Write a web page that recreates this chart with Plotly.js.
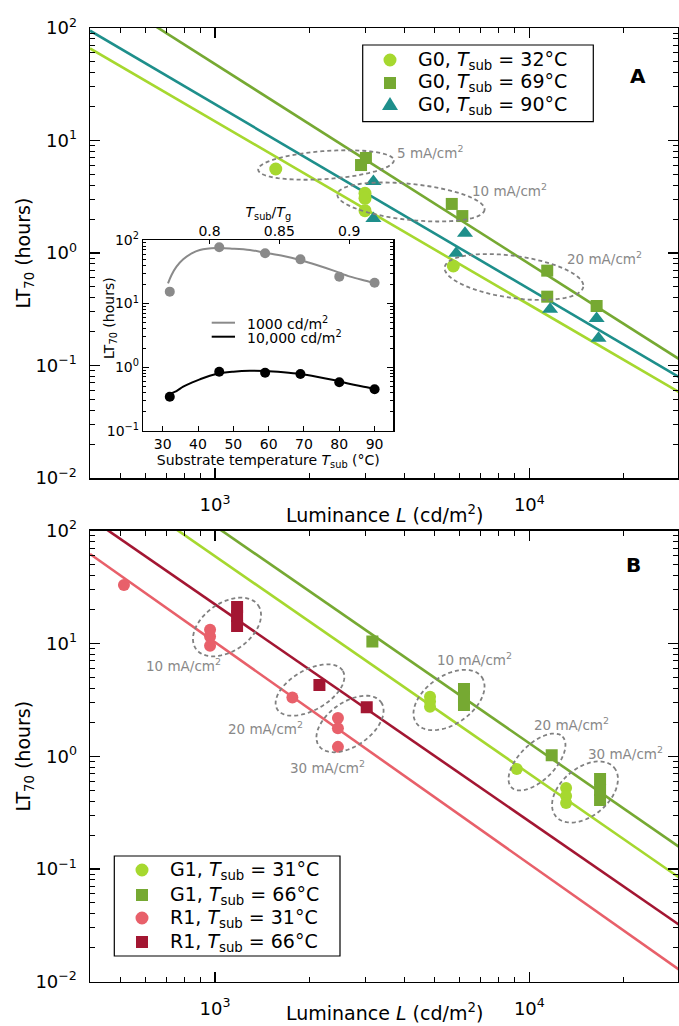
<!DOCTYPE html>
<html><head><meta charset="utf-8">
<script src="https://cdn.plot.ly/plotly-3.0.1.min.js"></script>
<style>html,body{margin:0;padding:0;background:#fff}</style>
</head><body><div id="chart" style="width:679px;height:1026px"></div>
<script>
// ---------------- Panel A data (G0) ----------------
const G0_32_L  = [1560, 3000, 3000, 3000, 5730];
const G0_32_LT = [5.58, 3.39, 3.06, 2.38, 0.766];
const G0_69_L  = [2914, 3020, 5665, 6120, 11400, 11400, 16370];
const G0_69_LT = [6.05, 6.99, 2.73, 2.13, 0.697, 0.409, 0.338];
const G0_90_L  = [3190, 3190, 6240, 5850, 11640, 16370, 16600];
const G0_90_LT = [4.31, 2.03, 1.50, 0.993, 0.316, 0.262, 0.175];
const FIT_L = [400, 30000];
const FIT_A_32 = [65.9, 0.0577];
const FIT_A_69 = [243, 0.1138];
const FIT_A_90 = [94.6, 0.0785];

// ---------------- Panel B data (G1, R1) ----------------
const G1_31_L  = [4830, 4830, 4830, 9120, 13090, 13090, 13090];
const G1_31_LT = [3.37, 3.05, 2.75, 0.77, 0.522, 0.443, 0.385];
const G1_66_L  = [3166, 6195, 6195, 6195, 11780, 16790, 16790, 16790];
const G1_66_LT = [10.4, 3.94, 3.35, 2.85, 1.02, 0.628, 0.502, 0.409];
const R1_31_L  = [513, 964, 964, 964, 1762, 2460, 2460, 2460];
const R1_31_LT = [33.0, 13.2, 11.5, 9.55, 3.32, 2.18, 1.77, 1.21];
const R1_66_L  = [1175, 1175, 1175, 2148, 3038];
const R1_66_LT = [21.0, 17.5, 14.3, 4.28, 2.72];
const FIT_B_G31 = [348, 0.0837];
const FIT_B_G66 = [643, 0.1567];
const FIT_B_R31 = [62.1, 0.01274];
const FIT_B_R66 = [129.6, 0.0319];

// ---------------- Inset data ----------------
const INSET_T = [32, 46, 59, 69, 80, 90];
const INSET_LT_1000  = [15.4, 76.8, 61.7, 49.6, 26.5, 21.3];
const INSET_LT_10000 = [0.343, 0.848, 0.818, 0.78, 0.577, 0.448];
const CURVE_T     = [31.5, 32.5, 33.9, 35.8, 38.2, 40.5, 45.2, 50, 54.7, 59, 64.2, 68.9, 73.6, 78.4, 83.1, 87.8, 90];
const CURVE_1000  = [20.8, 28.1, 38.0, 49.6, 61.7, 69.7, 74.8, 73.1, 69.7, 63.1, 56.0, 48.4, 40.5, 33.0, 26.5, 22.6, 20.8];
const CURVE_10000 = [0.365, 0.39, 0.42, 0.493, 0.57, 0.643, 0.78, 0.849, 0.88, 0.869, 0.829, 0.78, 0.708, 0.628, 0.543, 0.481, 0.448];
const SHADE_T = [59, 82.6];
const TG_K = 395.5;

// tick labels
const X_TICKS = [1000, 10000];
const X_TICKTEXT = ['10<sup>3</sup>', '10<sup>4</sup>'];
const Y_TICKS = [0.01, 0.1, 1, 10, 100];
const Y_TICKTEXT = ['10<sup>\u22122</sup>', '10<sup>\u22121</sup>', '10<sup>0</sup>', '10<sup>1</sup>', '10<sup>2</sup>'];
const IY_TICKS = [0.1, 1, 10, 100];
const IY_TICKTEXT = ['10<sup>\u22121</sup>', '10<sup>0</sup>', '10<sup>1</sup>', '10<sup>2</sup>'];
const IX_TICKS = [30, 40, 50, 60, 70, 80, 90];
const ITOP_TICKS = [0.8, 0.85, 0.9];
const ITOP_TICKTEXT = ['0.8', '0.85', '0.9'];

// colours
const LIME = '#a6d82f', GREEN = '#76a932', TEAL = '#1e8f8b', CORAL = '#e8606a', DARKRED = '#a31632';
const DGRAY = '#888888';

// ---------------- helpers ----------------
const W = 679, H = 1026;
const px = x => x / W;
const py = y => 1 - y / H;
const minorLog = (lo, hi) => { const v = []; for (let e = lo; e <= hi; e++) for (let m = 2; m <= 9; m++) v.push(m * Math.pow(10, e)); return v; };

function ellipsePath(cx, cy, a, b, angDeg) {
  const n = 90, th = angDeg * Math.PI / 180;
  let d = '';
  for (let i = 0; i <= n; i++) {
    const t = 2 * Math.PI * i / n;
    const x = cx + a * Math.cos(t) * Math.cos(th) - b * Math.sin(t) * Math.sin(th);
    const y = cy + a * Math.cos(t) * Math.sin(th) + b * Math.sin(t) * Math.cos(th);
    d += (i ? 'L' : 'M') + px(x).toFixed(5) + ',' + py(y).toFixed(5);
  }
  return d + 'Z';
}

const lineT = (x, y, color, xa, ya) => ({x, y, mode: 'lines', line: {color, width: 2.6}, xaxis: xa, yaxis: ya, showlegend: false, hoverinfo: 'skip'});
const mkT = (x, y, color, symbol, size, xa, ya) => ({x, y, mode: 'markers', marker: {color, symbol, size, line: {width: 0}}, xaxis: xa, yaxis: ya, showlegend: false});

const traces = [
  lineT(FIT_L, FIT_A_69, GREEN, 'x', 'y'),
  lineT(FIT_L, FIT_A_90, TEAL, 'x', 'y'),
  lineT(FIT_L, FIT_A_32, LIME, 'x', 'y'),
  mkT(G0_32_L, G0_32_LT, LIME, 'circle', 13, 'x', 'y'),
  mkT(G0_69_L, G0_69_LT, GREEN, 'square', 12, 'x', 'y'),
  mkT(G0_90_L, G0_90_LT, TEAL, 'triangle-up', 14, 'x', 'y'),

  lineT(FIT_L, FIT_B_G66, GREEN, 'x2', 'y2'),
  lineT(FIT_L, FIT_B_G31, LIME, 'x2', 'y2'),
  lineT(FIT_L, FIT_B_R66, DARKRED, 'x2', 'y2'),
  lineT(FIT_L, FIT_B_R31, CORAL, 'x2', 'y2'),
  mkT(G1_31_L, G1_31_LT, LIME, 'circle', 12, 'x2', 'y2'),
  mkT(G1_66_L, G1_66_LT, GREEN, 'square', 12, 'x2', 'y2'),
  mkT(R1_31_L, R1_31_LT, CORAL, 'circle', 12, 'x2', 'y2'),
  mkT(R1_66_L, R1_66_LT, DARKRED, 'square', 12, 'x2', 'y2'),

  {x: CURVE_T, y: CURVE_1000, mode: 'lines', line: {color: '#8a8a8a', width: 2, shape: 'spline'}, xaxis: 'x3', yaxis: 'y3', showlegend: false},
  {x: CURVE_T, y: CURVE_10000, mode: 'lines', line: {color: '#000', width: 2, shape: 'spline'}, xaxis: 'x3', yaxis: 'y3', showlegend: false},
  mkT(INSET_T, INSET_LT_1000, '#8a8a8a', 'circle', 10, 'x3', 'y3'),
  mkT(INSET_T, INSET_LT_10000, '#000', 'circle', 10, 'x3', 'y3'),
  {x: [], y: [], xaxis: 'x4', yaxis: 'y3', showlegend: false}
];

const mainAx = {
  showline: true, linecolor: '#000', linewidth: 1.5, mirror: 'ticks', ticks: 'inside', ticklen: 10, tickwidth: 1.2,
  tickcolor: '#000', showgrid: false, zeroline: false, tickfont: {size: 18, color: '#000'}, type: 'log', tickmode: 'array'
};
const xMinor = {ticks: 'inside', ticklen: 5, tickwidth: 1, tickcolor: '#000', tickmode: 'array', tickvals: minorLog(2, 4), showgrid: false};
const yMinor = {ticks: 'inside', ticklen: 5, tickwidth: 1, tickcolor: '#000', tickmode: 'array', tickvals: minorLog(-2, 1), showgrid: false};
const XR = [Math.log10(400), 4.473];
const yTitle = {text: 'LT<sub>70</sub> (hours)', font: {size: 19}, standoff: 0};

const insetAx = {showline: true, linecolor: '#000', linewidth: 1.5, ticks: 'inside', tickcolor: '#000', tickwidth: 1,
  showgrid: false, zeroline: false, tickfont: {size: 14, color: '#000'}, tickmode: 'array'};

const layout = {
  width: W, height: H, margin: {l: 0, r: 0, t: 0, b: 0},
  paper_bgcolor: '#fff', plot_bgcolor: '#fff',
  font: {family: 'DejaVu Sans, Verdana, sans-serif', color: '#000'},
  showlegend: false,
  xaxis: Object.assign({}, mainAx, {domain: [px(90), px(678)], anchor: 'y', range: XR, tickvals: X_TICKS, ticktext: X_TICKTEXT, minor: xMinor, ticklabelstandoff: 10}),
  yaxis: Object.assign({}, mainAx, {domain: [py(478), py(28)], anchor: 'x', range: [-2, 2], tickvals: Y_TICKS, ticktext: Y_TICKTEXT, minor: yMinor, title: yTitle, ticklabelstandoff: 8}),
  xaxis2: Object.assign({}, mainAx, {domain: [px(90), px(678)], anchor: 'y2', range: XR, tickvals: X_TICKS, ticktext: X_TICKTEXT, minor: xMinor, ticklabelstandoff: 10}),
  yaxis2: Object.assign({}, mainAx, {domain: [py(981.7), py(530.7)], anchor: 'x2', range: [-2, 2], tickvals: Y_TICKS, ticktext: Y_TICKTEXT, minor: yMinor, title: yTitle, ticklabelstandoff: 8}),
  xaxis3: Object.assign({}, insetAx, {domain: [px(143.3), px(393.3)], anchor: 'y3', range: [24.5, 95.3], tickvals: IX_TICKS, ticklen: 5, mirror: true,
    title: {text: 'Substrate temperature <i>T</i><sub>sub</sub> (°C)', font: {size: 14}, standoff: 2}}),
  xaxis4: Object.assign({}, insetAx, {overlaying: 'x3', anchor: 'y3', side: 'top', range: [(24.5 + 273.15) / TG_K, (95.3 + 273.15) / TG_K],
    tickvals: ITOP_TICKS, ticktext: ITOP_TICKTEXT, ticklen: 4, showline: false,
    title: {text: '<i>T</i><sub>sub</sub>/<i>T</i><sub>g</sub>', font: {size: 14}, standoff: 2}}),
  yaxis3: Object.assign({}, insetAx, {domain: [py(430.7), py(240)], anchor: 'x3', type: 'log', range: [-1, 2], tickvals: IY_TICKS, ticktext: IY_TICKTEXT,
    ticklen: 6, mirror: 'ticks', minor: {ticks: 'inside', ticklen: 3, tickwidth: 1, tickcolor: '#000', tickmode: 'array', tickvals: minorLog(-1, 1)}}),
  shapes: [],
  annotations: []
};

// x-axis titles of both panels and inset y title (placed close to the axes as in the figure)
layout.annotations.push({text: 'Luminance <i>L</i> (cd/m<sup>2</sup>)', x: px(384), y: py(514), xref: 'paper', yref: 'paper',
  xanchor: 'center', yanchor: 'middle', showarrow: false, font: {size: 19}});
layout.annotations.push({text: 'Luminance <i>L</i> (cd/m<sup>2</sup>)', x: px(384), y: py(1012), xref: 'paper', yref: 'paper',
  xanchor: 'center', yanchor: 'middle', showarrow: false, font: {size: 19}});
layout.annotations.push({text: 'LT<sub>70</sub> (hours)', x: px(110), y: py(318), xref: 'paper', yref: 'paper', textangle: -90,
  xanchor: 'center', yanchor: 'middle', showarrow: false, font: {size: 14}});

// inset shaded band (T_sub/T_g ~ 0.84-0.90)
layout.shapes.push({type: 'rect', xref: 'x3', yref: 'y3 domain', x0: SHADE_T[0], x1: SHADE_T[1], y0: 0, y1: 1,
  fillcolor: '#c8e3c6', line: {width: 0}, layer: 'below'});

// dashed grouping ellipses (pixel geometry)
const ELLIPSES = [
  [326, 165, 68, 14, -4], [411, 202, 74, 18, 6], [514, 277, 70, 21, 8],
  [227, 627, 38, 24, -35], [310, 690, 38, 20, -30], [350, 724, 38, 22, -35],
  [449, 700, 40, 24, -35], [537, 762, 36, 18, -45], [585, 792, 38, 24, -40]
];
ELLIPSES.forEach(e => layout.shapes.push({type: 'path', xref: 'paper', yref: 'paper', path: ellipsePath(...e),
  line: {color: '#808080', width: 1.8, dash: '4px,3px'}, layer: 'above'}));

const EL_LABELS = [
  ['5 mA/cm<sup>2</sup>', 395, 152, 'left'], ['10 mA/cm<sup>2</sup>', 470, 190, 'left'], ['20 mA/cm<sup>2</sup>', 565, 258, 'left'],
  ['10 mA/cm<sup>2</sup>', 183, 665, 'center'], ['20 mA/cm<sup>2</sup>', 265, 728, 'center'], ['30 mA/cm<sup>2</sup>', 327, 767, 'center'],
  ['10 mA/cm<sup>2</sup>', 475, 659, 'center'], ['20 mA/cm<sup>2</sup>', 571, 724, 'center'], ['30 mA/cm<sup>2</sup>', 625, 753, 'center']
];
EL_LABELS.forEach(l => layout.annotations.push({text: l[0], x: px(l[1]), y: py(l[2]), xref: 'paper', yref: 'paper',
  xanchor: l[3], yanchor: 'middle', showarrow: false, font: {size: 13.5, color: DGRAY}}));

// panel letters
layout.annotations.push({text: '<b>A</b>', x: px(648), y: py(62), xref: 'paper', yref: 'paper', showarrow: false, font: {size: 20}});
layout.annotations.push({text: '<b>B</b>', x: px(643), y: py(565), xref: 'paper', yref: 'paper', showarrow: false, font: {size: 20}});

// legends (drawn as boxes with symbols and text)
function addLegend(box, mx, tx, rows) {
  layout.shapes.push({type: 'rect', xref: 'paper', yref: 'paper', x0: px(box[0]), y0: py(box[3]), x1: px(box[2]), y1: py(box[1]),
    line: {color: '#000', width: 1.2}, fillcolor: '#fff', layer: 'above'});
  rows.forEach(r => {
    const [ry, sym, color, label] = r;
    const s = 6.5;
    if (sym === 'circle') {
      layout.shapes.push({type: 'circle', xref: 'paper', yref: 'paper', x0: px(mx - s), x1: px(mx + s), y0: py(ry + s), y1: py(ry - s), fillcolor: color, line: {width: 0}, layer: 'above'});
    } else if (sym === 'square') {
      layout.shapes.push({type: 'rect', xref: 'paper', yref: 'paper', x0: px(mx - 6), x1: px(mx + 6), y0: py(ry + 6), y1: py(ry - 6), fillcolor: color, line: {width: 0}, layer: 'above'});
    } else {
      layout.shapes.push({type: 'path', xref: 'paper', yref: 'paper',
        path: 'M' + px(mx - 8) + ',' + py(ry + 5) + 'L' + px(mx + 8) + ',' + py(ry + 5) + 'L' + px(mx) + ',' + py(ry - 8) + 'Z',
        fillcolor: color, line: {width: 0}, layer: 'above'});
    }
    layout.annotations.push({text: label, x: px(tx), y: py(ry), xref: 'paper', yref: 'paper', xanchor: 'left', yanchor: 'middle',
      showarrow: false, font: {size: 19}});
  });
}
addLegend([362.7, 45, 593.3, 121.7], 390, 416, [
  [60, 'circle', LIME, 'G0, <i>T</i><sub>sub</sub> = 32°C'],
  [83, 'square', GREEN, 'G0, <i>T</i><sub>sub</sub> = 69°C'],
  [105, 'triangle', TEAL, 'G0, <i>T</i><sub>sub</sub> = 90°C']
]);
addLegend([114.3, 856, 340, 956], 142, 168, [
  [870, 'circle', LIME, 'G1, <i>T</i><sub>sub</sub> = 31°C'],
  [895, 'square', GREEN, 'G1, <i>T</i><sub>sub</sub> = 66°C'],
  [918, 'circle', CORAL, 'R1, <i>T</i><sub>sub</sub> = 31°C'],
  [942, 'square', DARKRED, 'R1, <i>T</i><sub>sub</sub> = 66°C']
]);

// inset legend
layout.shapes.push({type: 'line', xref: 'paper', yref: 'paper', x0: px(211.7), x1: px(235), y0: py(322.7), y1: py(322.7), line: {color: '#8a8a8a', width: 2}});
layout.shapes.push({type: 'line', xref: 'paper', yref: 'paper', x0: px(211.7), x1: px(235), y0: py(336.7), y1: py(336.7), line: {color: '#000', width: 2}});
layout.annotations.push({text: '1000 cd/m<sup>2</sup>', x: px(245), y: py(322.7), xref: 'paper', yref: 'paper', xanchor: 'left', yanchor: 'middle', showarrow: false, font: {size: 14}});
layout.annotations.push({text: '10,000 cd/m<sup>2</sup>', x: px(245), y: py(336.7), xref: 'paper', yref: 'paper', xanchor: 'left', yanchor: 'middle', showarrow: false, font: {size: 14}});

Plotly.newPlot('chart', traces, layout, {displayModeBar: false, staticPlot: true});
</script></body></html>
